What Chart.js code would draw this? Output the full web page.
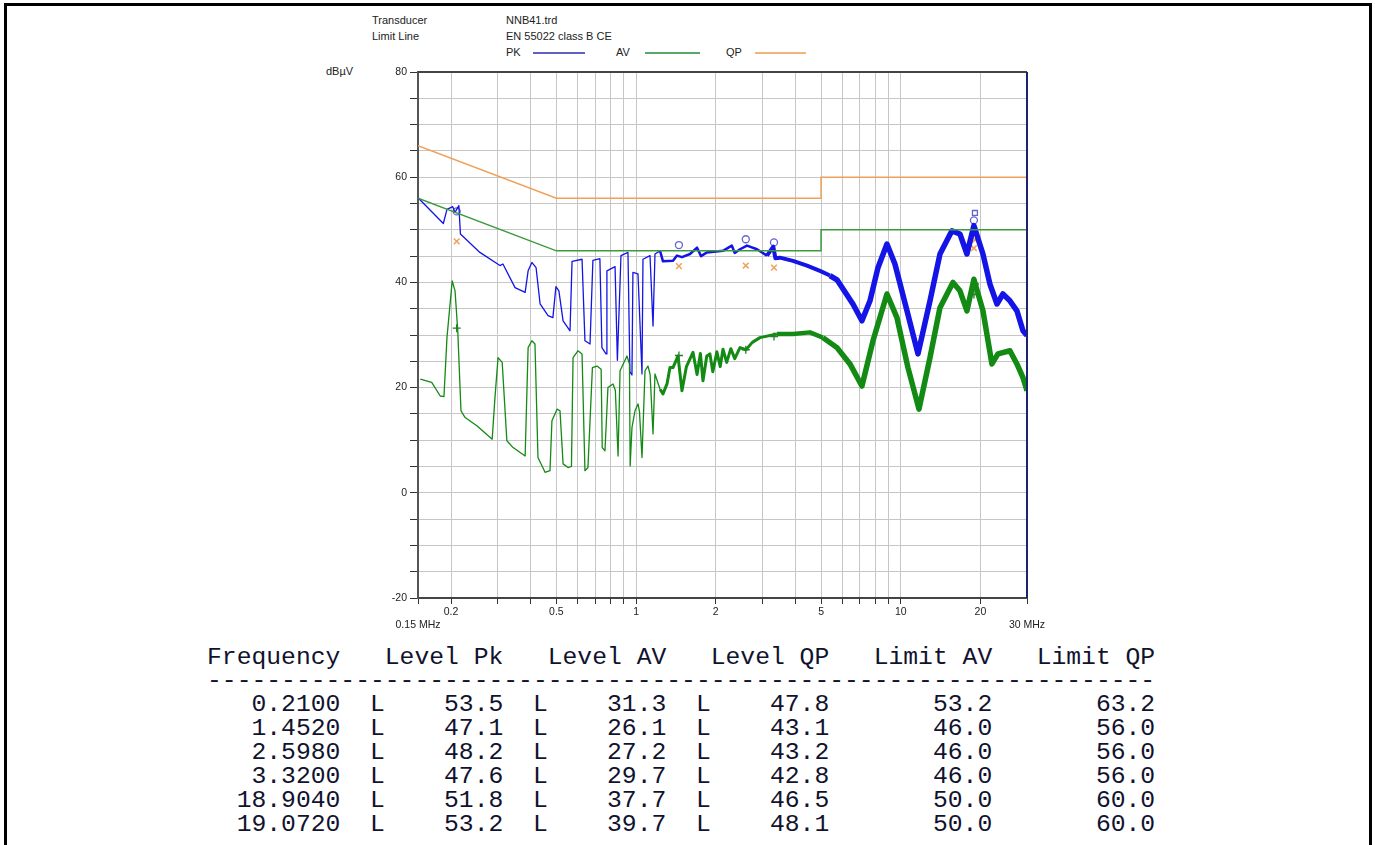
<!DOCTYPE html>
<html>
<head>
<meta charset="utf-8">
<script src="https://cdn.jsdelivr.net/npm/chart.js@4.4.1/dist/chart.umd.min.js"></script>
<style>
  body { margin: 0; background: #fff; width: 1375px; height: 845px; overflow: hidden; position: relative; }
  .frame { position: absolute; left: 4px; top: 3px; width: 1362px; height: 900px; border: 3px solid #000; border-bottom: none; }
  .hd { position: absolute; font: 11px "Liberation Sans", Arial, sans-serif; color: #222; white-space: nowrap; }
  .lg { position: absolute; height: 2px; }
  #chart { position: absolute; left: 300px; top: 60px; }
  .tbl { position: absolute; left: 207px; margin: 0; font: 24.7px "Liberation Mono", "DejaVu Sans Mono", monospace; line-height: 24px; color: #11132e; white-space: pre; }
</style>
</head>
<body>
<div class="frame"></div>
<div class="hd" style="left:372px;top:14px">Transducer</div>
<div class="hd" style="left:506px;top:14px">NNB41.trd</div>
<div class="hd" style="left:372px;top:30px">Limit Line</div>
<div class="hd" style="left:506px;top:30px">EN 55022 class B CE</div>
<div class="hd" style="left:506px;top:46px">PK</div>
<div class="lg" style="left:533px;top:52px;width:52px;background:#6060c0"></div>
<div class="hd" style="left:616px;top:46px">AV</div>
<div class="lg" style="left:645px;top:52px;width:55px;background:#5aa868"></div>
<div class="hd" style="left:726px;top:46px">QP</div>
<div class="lg" style="left:755px;top:52px;width:51px;background:#f2b478"></div>
<div class="hd" style="left:326px;top:65px">dBµV</div>
<canvas id="chart" width="760" height="580"></canvas>
<div class="tbl" id="tHead" style="top:645px"></div>
<div class="tbl" id="tDash" style="top:668px"></div>
<div class="tbl" id="tRows" style="top:692px"></div>
<script>
// frequency in MHz, level in dBuV
var pkTrace = [
  [0.150, 56.1], [0.187, 51.2], [0.193, 53.9], [0.203, 54.4], [0.207, 53.3], [0.214, 54.6],
  [0.217, 49.2], [0.257, 45.7], [0.306, 43.2], [0.314, 43.5], [0.349, 39.0], [0.381, 38.1],
  [0.391, 42.2], [0.404, 43.8], [0.419, 42.8], [0.434, 35.9], [0.465, 33.7], [0.485, 33.3],
  [0.498, 39.2], [0.511, 38.4], [0.530, 32.7], [0.563, 30.8], [0.573, 44.0], [0.625, 44.4],
  [0.641, 28.9], [0.670, 28.3], [0.687, 44.2], [0.730, 44.5], [0.743, 27.6], [0.770, 26.4],
  [0.776, 42.2], [0.833, 43.0], [0.850, 25.2], [0.877, 45.1], [0.932, 45.7], [0.948, 23.0],
  [0.965, 22.4], [0.973, 41.9], [1.017, 41.6], [1.053, 22.6], [1.062, 44.4], [1.129, 45.1],
  [1.159, 31.7], [1.179, 45.4], [1.232, 46.0], [1.264, 44.0], [1.379, 44.1], [1.428, 45.1],
  [1.491, 44.8], [1.599, 45.4], [1.70, 46.6], [1.76, 45.0], [1.853, 45.7], [2.130, 46.0],
  [2.30, 47.0], [2.36, 45.6], [2.470, 46.3], [2.625, 47.0], [2.863, 46.3], [3.124, 45.1],
  [3.30, 46.8], [3.36, 44.6], [3.496, 44.7], [3.917, 44.1], [4.424, 43.2], [4.953, 42.2],
  [5.403, 41.3], [5.744, 40.5], [6.598, 35.9], [7.136, 32.7], [7.653, 36.5], [8.204, 42.8],
  [8.870, 47.3], [9.509, 43.5], [10.56, 34.6], [11.62, 26.4], [12.90, 36.5], [14.07, 45.4],
  [15.61, 49.8], [16.74, 49.2], [17.79, 45.4], [18.90, 50.8], [20.45, 45.4], [21.72, 39.7],
  [23.10, 35.9], [24.33, 37.8], [25.86, 36.5], [27.48, 34.6], [28.97, 30.8], [30.0, 29.9]
];

var avTrace = [
  [0.153, 21.6], [0.169, 21.0], [0.182, 18.4], [0.188, 18.3], [0.193, 29.5], [0.202, 40.3],
  [0.207, 38.4], [0.212, 30.8], [0.218, 15.6], [0.226, 14.3], [0.251, 12.7], [0.286, 10.2],
  [0.293, 18.1], [0.301, 25.7], [0.312, 24.8], [0.325, 9.9], [0.343, 8.6], [0.381, 7.0],
  [0.391, 27.6], [0.404, 28.9], [0.415, 28.3], [0.426, 6.7], [0.453, 3.9], [0.473, 4.2],
  [0.481, 13.7], [0.503, 15.9], [0.516, 15.6], [0.530, 5.5], [0.553, 4.8], [0.570, 5.0],
  [0.578, 25.7], [0.603, 27.0], [0.625, 26.4], [0.641, 4.2], [0.658, 4.8], [0.684, 23.8],
  [0.712, 24.1], [0.738, 23.5], [0.745, 8.6], [0.763, 8.0], [0.783, 20.0], [0.818, 20.7],
  [0.835, 19.5], [0.855, 7.0], [0.870, 23.2], [0.924, 26.0], [0.944, 24.5], [0.950, 5.1],
  [0.965, 12.4], [0.991, 15.6], [1.017, 16.9], [1.030, 15.5], [1.053, 6.7], [1.081, 23.2],
  [1.109, 24.1], [1.130, 22.5], [1.159, 11.2], [1.179, 22.6], [1.232, 19.7], [1.264, 18.8],
  [1.309, 20.7], [1.343, 23.8], [1.379, 23.8], [1.440, 26.0], [1.491, 19.4], [1.550, 24.0],
  [1.641, 26.7], [1.70, 22.5], [1.75, 26.5], [1.790, 21.3], [1.85, 26.0], [1.901, 26.4],
  [1.95, 23.0], [2.02, 26.8], [2.08, 24.0], [2.130, 27.3], [2.20, 24.8], [2.28, 27.4],
  [2.36, 25.5], [2.470, 27.6], [2.60, 27.2], [2.75, 28.6], [2.938, 29.5], [3.406, 30.2],
  [3.917, 30.2], [4.540, 30.5], [5.082, 29.5], [5.744, 27.6], [6.428, 24.5], [7.136, 20.3],
  [7.856, 28.9], [8.870, 37.8], [9.676, 33.3], [10.65, 23.8], [11.72, 15.9], [12.90, 25.7],
  [14.07, 35.2], [15.75, 40.0], [16.74, 38.4], [17.79, 34.6], [18.90, 40.6], [20.45, 34.6],
  [22.11, 24.5], [23.30, 26.4], [25.86, 27.0], [27.48, 24.5], [28.97, 21.9], [30.0, 19.4]
];

var qpLimit = [[0.15, 66], [0.5, 56], [5, 56], [5, 60], [30, 60]];
var avLimit = [[0.15, 56], [0.5, 46], [5, 46], [5, 50], [30, 50]];

// final measurement table
var mFreq = [0.2100, 1.4520, 2.5980, 3.3200, 18.9040, 19.0720];
var mPk = [53.5, 47.1, 48.2, 47.6, 51.8, 53.2];
var mAv = [31.3, 26.1, 27.2, 29.7, 37.7, 39.7];
var mQp = [47.8, 43.1, 43.2, 42.8, 46.5, 48.1];
var mLimAv = [53.2, 46.0, 46.0, 46.0, 50.0, 50.0];
var mLimQp = [63.2, 56.0, 56.0, 56.0, 60.0, 60.0];

var xTicks = [0.15, 0.2, 0.3, 0.4, 0.5, 0.6, 0.7, 0.8, 0.9, 1, 2, 3, 4, 5, 6, 7, 8, 9, 10, 20, 30];
var xLabels = { "0.15": ["", "0.15 MHz"], "0.2": "0.2", "0.5": "0.5", "1": "1", "2": "2",
  "5": "5", "10": "10", "20": "20", "30": ["", "30 MHz"] };

function pts(arr) {
  return arr.map(function (p) { return { x: p[0], y: p[1] }; });
}
function pairs(fs, vs) {
  return fs.map(function (f, i) { return { x: f, y: vs[i] }; });
}
// the receiver trace gets denser (fuzzier) towards high frequencies
function noisyWidth(w1, w2, w3, w4) {
  return function (ctx) {
    var f = ctx.p0.parsed.x;
    if (f >= 5) return w4;
    if (f > 3) return w3;
    if (f > 1.2) return w2;
    return w1;
  };
}

var frame = {
  id: "frame",
  afterDraw: function (chart) {
    var a = chart.chartArea, c = chart.ctx;
    c.save();
    c.lineWidth = 2;
    c.strokeStyle = "#444";
    c.beginPath(); c.moveTo(a.left, a.top); c.lineTo(a.right, a.top); c.stroke();
    c.strokeStyle = "#1c2470";
    c.beginPath(); c.moveTo(a.right, a.top); c.lineTo(a.right, a.bottom); c.stroke();
    c.restore();
  }
};

new Chart(document.getElementById("chart"), {
  type: "line",
  data: {
    datasets: [
      { label: "QP limit", data: pts(qpLimit), borderColor: "#f0a058", borderWidth: 1.5, pointRadius: 0 },
      { label: "AV limit", data: pts(avLimit), borderColor: "#3c9a3c", borderWidth: 1.5, pointRadius: 0 },
      { label: "AV", data: pts(avTrace), borderColor: "#138a13", borderWidth: 1.3, pointRadius: 0,
        borderJoinStyle: "round", segment: { borderWidth: noisyWidth(1.3, 3, 4.5, 5.5) } },
      { label: "PK", data: pts(pkTrace), borderColor: "#1414e6", borderWidth: 1.3, pointRadius: 0,
        borderJoinStyle: "round", segment: { borderWidth: noisyWidth(1.3, 2.5, 4, 5.5) } },
      { label: "PK marker", data: pairs(mFreq, mPk), showLine: false, pointRadius: 3.5,
        pointStyle: function (ctx) { return ctx.dataIndex === mFreq.length - 1 ? "rect" : "circle"; },
        pointBorderColor: "#6464cc", pointBackgroundColor: "rgba(255,255,255,0)", pointBorderWidth: 1.3 },
      { label: "QP marker", data: pairs(mFreq, mQp), showLine: false, pointRadius: 4, pointStyle: "crossRot",
        pointBorderColor: "#f0a058", pointBorderWidth: 1.5 },
      { label: "AV marker", data: pairs(mFreq, mAv), showLine: false, pointRadius: 4, pointStyle: "cross",
        pointBorderColor: "#2a7a2a", pointBorderWidth: 1.3 }
    ]
  },
  options: {
    responsive: false,
    animation: false,
    events: [],
    layout: { padding: { top: 12, right: 33, left: 0, bottom: 0 } },
    plugins: { legend: { display: false }, tooltip: { enabled: false } },
    elements: { line: { tension: 0 } },
    scales: {
      x: {
        type: "logarithmic",
        min: 0.15,
        max: 30,
        afterBuildTicks: function (s) { s.ticks = xTicks.map(function (v) { return { value: v }; }); },
        afterFit: function (s) { s.height = 42; },
        ticks: {
          autoSkip: false, maxRotation: 0, padding: 2,
          color: "#222", font: { family: "Liberation Sans", size: 10.5 },
          callback: function (v) { var l = xLabels[String(v)]; return l === undefined ? "" : l; }
        },
        grid: { color: "#c6c6c6", lineWidth: 1, tickColor: "#333", tickLength: 6 },
        border: { color: "#444", width: 2 }
      },
      y: {
        min: -20,
        max: 80,
        afterFit: function (s) { s.width = 118; },
        ticks: {
          stepSize: 5, autoSkip: false, padding: 3,
          color: "#222", font: { family: "Liberation Sans", size: 10.5 },
          callback: function (v) { return v % 20 === 0 ? v : ""; }
        },
        grid: { color: "#c6c6c6", lineWidth: 1, tickColor: "#333", tickLength: 8 },
        border: { color: "#555", width: 2 }
      }
    }
  },
  plugins: [frame]
});

function pad(s, n) { s = String(s); while (s.length < n) s = " " + s; return s; }
document.getElementById("tHead").textContent =
  "Frequency   Level Pk   Level AV   Level QP   Limit AV   Limit QP";
document.getElementById("tDash").textContent = new Array(65).join("-");
var rows = [];
for (var i = 0; i < mFreq.length; i++) {
  rows.push(pad(mFreq[i].toFixed(4), 9) + "  L" + pad(mPk[i].toFixed(1), 8) + "  L" +
    pad(mAv[i].toFixed(1), 8) + "  L" + pad(mQp[i].toFixed(1), 8) +
    pad(mLimAv[i].toFixed(1), 11) + pad(mLimQp[i].toFixed(1), 11));
}
document.getElementById("tRows").textContent = rows.join("\n");
</script>
</body>
</html>
